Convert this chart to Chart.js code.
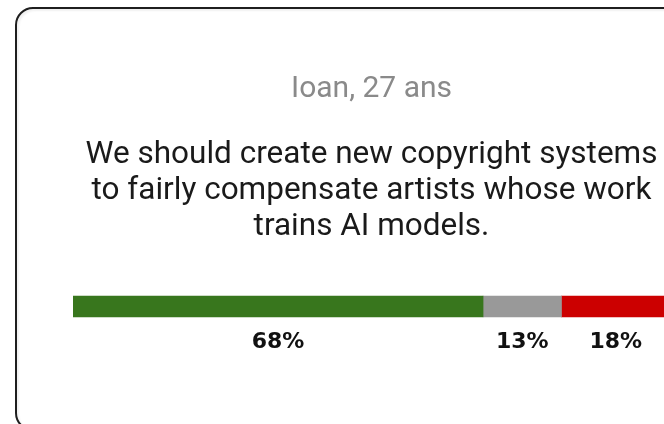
<!DOCTYPE html>
<html>
<head>
<meta charset="utf-8">
<script src="https://cdn.jsdelivr.net/npm/chart.js@4"></script>
<style>
  html, body { margin: 0; padding: 0; width: 664px; height: 424px; overflow: hidden; background: #ffffff; }
  .card {
    position: absolute; left: 15px; top: 7px; width: 760px; height: 424px;
    border: 2px solid #1e1e1e; border-radius: 18px; box-sizing: border-box;
    box-shadow: inset 2px 2px 2px rgba(0,0,0,0.06);
  }
  canvas { position: absolute; left: 0; top: 0; }
</style>
</head>
<body>
<div class="card"></div>
<canvas id="poll" width="740" height="424"></canvas>
<script>
// Poll result for one respondent's statement
const respondent = 'Ioan, 27 ans';
const statement = [
  'We should create new copyright systems',
  'to fairly compensate artists whose work',
  'trains AI models.'
];
const answers = ['Agree', 'Neutral', 'Disagree'];
const shares = [68, 13, 18];
const answerColors = ['#38761d', '#999999', '#cc0000'];

// Writes each segment's percentage centred beneath its bar
const shareLabels = {
  id: 'shareLabels',
  afterDatasetsDraw(chart) {
    const ctx = chart.ctx;
    ctx.save();
    ctx.font = 'bold 22px "DejaVu Sans", Verdana, sans-serif';
    ctx.fillStyle = '#111111';
    ctx.textAlign = 'center';
    ctx.textBaseline = 'middle';
    chart.data.datasets.forEach((ds, i) => {
      const bar = chart.getDatasetMeta(i).data[0];
      if (!bar) return;
      const p = bar.getProps(['x', 'y', 'base', 'height'], true);
      const cx = (p.x + p.base) / 2;
      ctx.fillText(ds.data[0] + '%', cx, p.y + p.height / 2 + 25);
    });
    ctx.restore();
  }
};

new Chart(document.getElementById('poll'), {
  type: 'bar',
  data: {
    labels: [''],
    datasets: answers.map((name, i) => ({
      label: name,
      data: [shares[i]],
      backgroundColor: answerColors[i],
      borderWidth: 0,
      barThickness: 21
    }))
  },
  options: {
    indexAxis: 'y',
    responsive: false,
    animation: false,
    devicePixelRatio: 1,
    layout: { padding: { left: 73, right: 70, top: 0, bottom: 91 } },
    scales: {
      x: { stacked: true, min: 0, max: shares.reduce((a, b) => a + b, 0), display: false },
      y: { stacked: true, display: false }
    },
    plugins: {
      legend: { display: false },
      tooltip: { enabled: false },
      title: {
        display: true,
        text: respondent,
        color: '#8a8a8a',
        font: { family: 'Roboto', size: 30, weight: 'normal', lineHeight: 1.2 },
        padding: { top: 71, bottom: 0 }
      },
      subtitle: {
        display: true,
        text: statement,
        color: '#1a1a1a',
        font: { family: 'Roboto', size: 31.5, weight: 'normal', lineHeight: 36 / 31.5 },
        padding: { top: 30, bottom: 35 }
      }
    }
  },
  plugins: [shareLabels]
});
</script>
</body>
</html>
